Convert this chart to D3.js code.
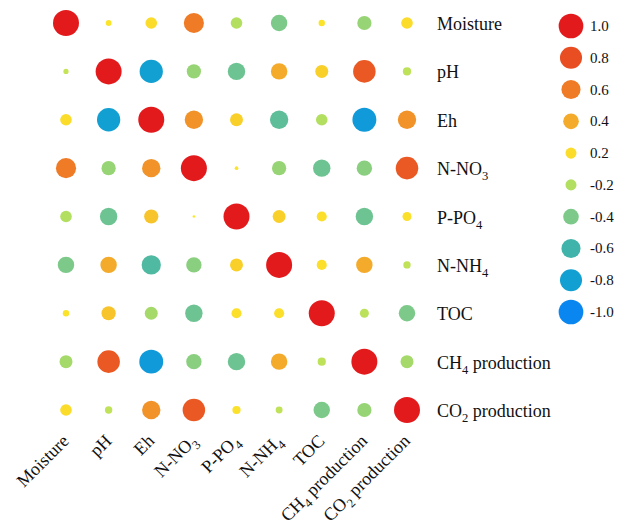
<!DOCTYPE html>
<html>
<head>
<meta charset="utf-8">
<script src="https://cdn.jsdelivr.net/npm/d3@7"></script>
<style>
  body { margin: 0; background: #fff; }
  text { font-family: 'Liberation Serif', 'Times New Roman', serif; fill: #111; }
</style>
</head>
<body>
<svg id="canvas" width="619" height="527"></svg>
<script>
// variable names, "_n" marks a subscript digit
let variables = ['Moisture', 'pH', 'Eh', 'N-NO_3', 'P-PO_4', 'N-NH_4', 'TOC', 'CH_4 production', 'CO_2 production']

// correlation rows
let moistureRow = [1, 0.05, 0.2, 0.6, -0.2, -0.4, 0.06, -0.3, 0.2]
let phRow = [-0.04, 1, -0.8, -0.3, -0.45, 0.4, 0.25, 0.75, -0.1]
let ehRow = [0.2, -0.8, 1, 0.5, 0.25, -0.5, -0.2, -0.85, 0.5]
let no3Row = [0.6, -0.3, 0.5, 1, 0.02, -0.3, -0.45, -0.35, 0.75]
let po4Row = [-0.2, -0.45, 0.3, 0.01, 1, 0.25, 0.15, -0.45, 0.12]
let nh4Row = [-0.4, 0.4, -0.55, -0.35, 0.25, 1, 0.15, 0.4, -0.08]
let tocRow = [0.06, 0.3, -0.25, -0.45, 0.15, 0.15, 1, -0.12, -0.4]
let ch4Row = [-0.25, 0.75, -0.85, -0.35, -0.45, 0.4, -0.1, 1, -0.25]
let co2Row = [0.2, -0.08, 0.5, 0.75, 0.1, -0.07, -0.4, -0.3, 1]

let legendValues = [1.0, 0.8, 0.6, 0.4, 0.2, -0.2, -0.4, -0.6, -0.8, -1.0]

let rows = [moistureRow, phRow, ehRow, no3Row, po4Row, nh4Row, tocRow, ch4Row, co2Row]

let canvas = d3.select('#canvas')

let xScale = d3.scalePoint().domain(variables).range([66, 407])
let yScale = d3.scalePoint().domain(variables).range([23, 410])
let legendScale = d3.scalePoint().domain(legendValues).range([26, 312])

let sizeScale = d3.scaleSqrt().domain([0, 1]).range([0, 13])

let colorScale = d3.scaleLinear()
  .domain([-1, -0.8, -0.6, -0.4, -0.2, -0.001, 0.001, 0.2, 0.4, 0.6, 0.8, 1])
  .range(['#0a86f0', '#12a0d2', '#40b3aa', '#7cc98a', '#b2df60', '#c8e454',
          '#fbe62c', '#fbdc2a', '#f4ab2b', '#ef7b26', '#e84e22', '#e31a1c'])
  .clamp(true)

let cells = []
rows.forEach((row, i) => {
  row.forEach((value, j) => {
    cells.push({ row: variables[i], col: variables[j], value: value })
  })
})

canvas.selectAll('circle.cell')
  .data(cells)
  .enter()
  .append('circle')
  .attr('class', 'cell')
  .attr('cx', (d) => xScale(d.col))
  .attr('cy', (d) => yScale(d.row))
  .attr('r', (d) => sizeScale(Math.abs(d.value)))
  .attr('fill', (d) => colorScale(d.value))

let writeLabel = (text, name) => {
  let parts = name.split(/_(\d)/)
  parts.forEach((part, k) => {
    if (part === '') return
    if (k % 2 === 1) {
      text.append('tspan').attr('dy', 5).attr('font-size', '0.7em').text(part)
    } else {
      text.append('tspan').attr('dy', k > 0 ? -5 : 0).text(part)
    }
  })
}

// row labels on the right
canvas.selectAll('text.row-label')
  .data(variables)
  .enter()
  .append('text')
  .attr('class', 'row-label')
  .attr('x', 437)
  .attr('y', (d) => yScale(d) + 7)
  .attr('font-size', 18)
  .each(function (d) { writeLabel(d3.select(this), d) })

// column labels underneath, slanted
canvas.selectAll('text.col-label')
  .data(variables)
  .enter()
  .append('text')
  .attr('class', 'col-label')
  .attr('text-anchor', 'end')
  .attr('font-size', 18)
  .attr('transform', (d) => 'translate(' + (xScale(d) + 4) + ', 442) rotate(-45)')
  .each(function (d) { writeLabel(d3.select(this), d) })

// legend
canvas.selectAll('circle.legend')
  .data(legendValues)
  .enter()
  .append('circle')
  .attr('class', 'legend')
  .attr('cx', 571)
  .attr('cy', (d) => legendScale(d))
  .attr('r', (d) => sizeScale(Math.abs(d)) * 0.95)
  .attr('fill', (d) => colorScale(d))

canvas.selectAll('text.legend-label')
  .data(legendValues)
  .enter()
  .append('text')
  .attr('class', 'legend-label')
  .attr('x', 590)
  .attr('y', (d) => legendScale(d) + 5)
  .attr('font-size', 15)
  .text((d) => d.toFixed(1))
</script>
</body>
</html>
